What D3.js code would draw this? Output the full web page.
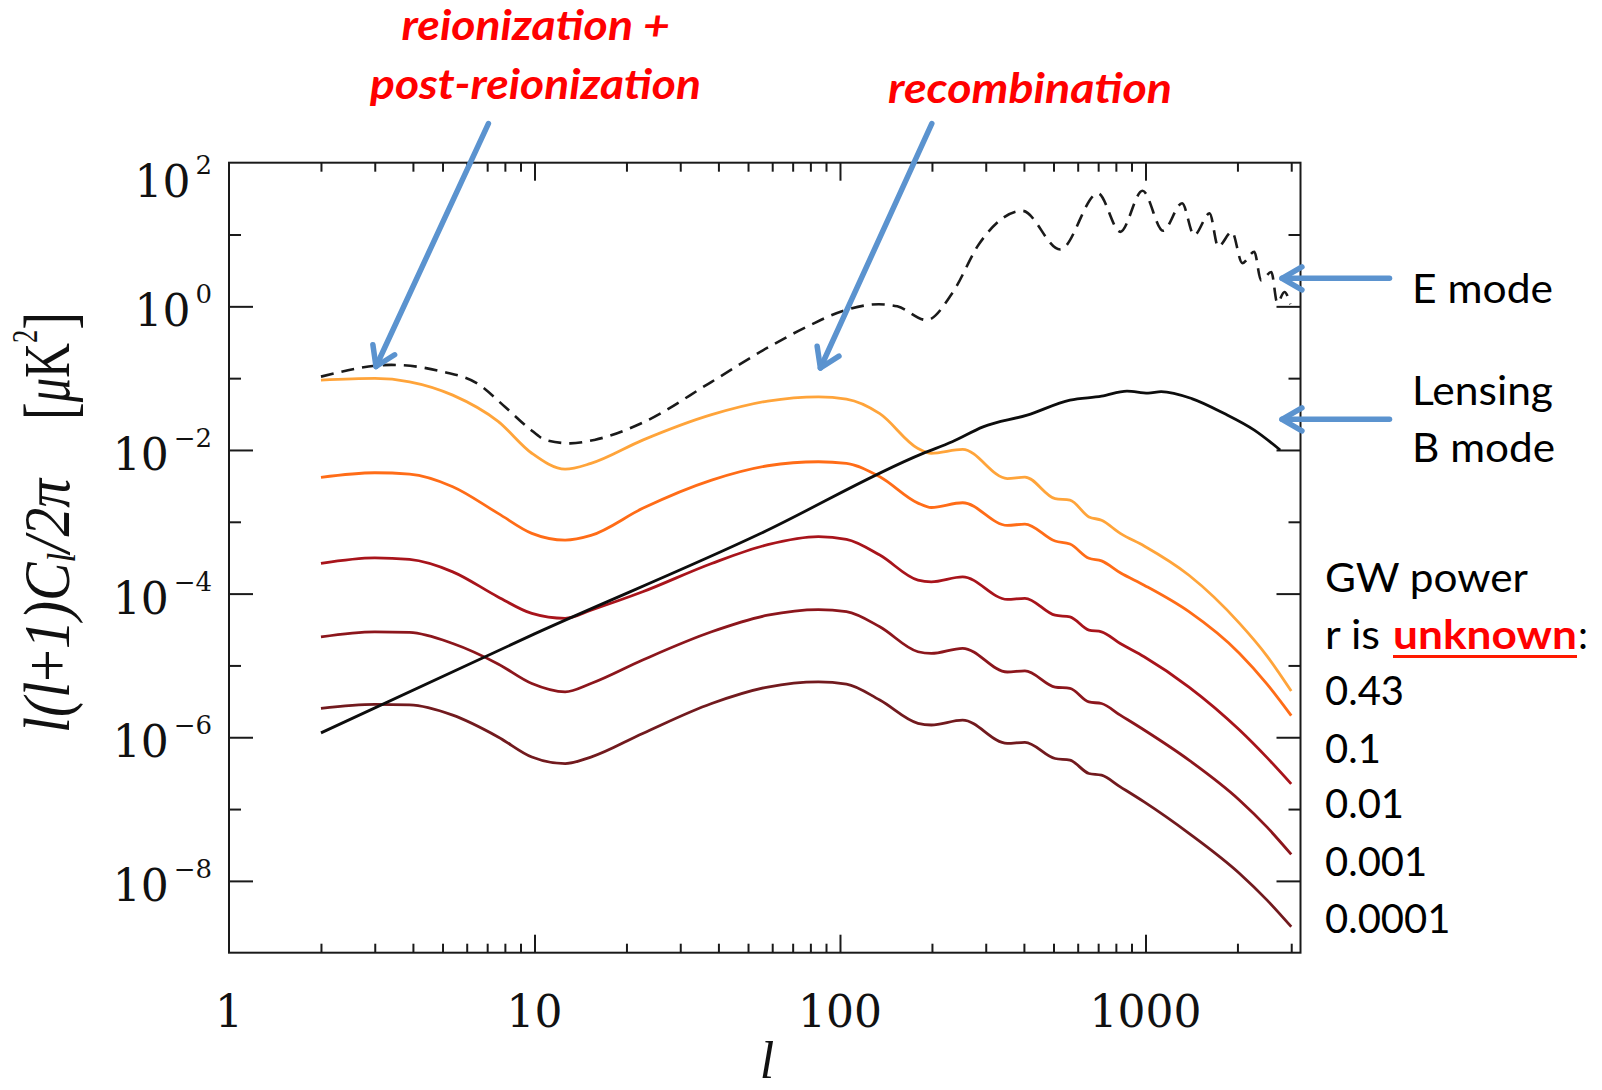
<!DOCTYPE html>
<html><head><meta charset="utf-8">
<script src="https://cdn.jsdelivr.net/npm/d3@7"></script>
<style>body{margin:0;background:#fff}svg{display:block}</style>
</head><body><svg id="c" width="1602" height="1090"></svg>
<script>
// ---------- data ----------
const ellT = [2,3,3.9,5.4,7.6,9.8,12.6,15.3,22.6,38,58,85,105,135,180,199,252,353,403,506,566,653,718,827,990,1388,2032,2500,3000];
const bR043 = [9.4e-2,9.9e-2,8.9e-2,5.8e-2,2.5e-2,9.0e-3,5.4e-3,6.5e-3,1.37e-2,3.1e-2,4.8e-2,5.5e-2,5.1e-2,3.2e-2,1.05e-2,9.0e-3,1.02e-2,4.0e-3,4.2e-3,2.1e-3,2.0e-3,1.17e-3,1.05e-3,6.9e-4,4.6e-4,1.8e-4,3.85e-5,1.35e-5,4.4e-6];
const bR01  = [4.15e-3,4.82e-3,4.61e-3,3.08e-3,1.31e-3,6.9e-4,5.56e-4,6.46e-4,1.54e-3,3.81e-3,6.03e-3,6.86e-3,6.5e-3,4.24e-3,1.82e-3,1.58e-3,1.84e-3,8.9e-4,9.3e-4,5.4e-4,4.9e-4,3.1e-4,2.86e-4,1.95e-4,1.31e-4,5.6e-5,1.47e-5,5.5e-6,2.0e-6];
const bR001 = [2.64e-4,3.15e-4,2.99e-4,2.01e-4,9.0e-5,5.3e-5,4.52e-5,5.9e-5,1.06e-4,2.63e-4,4.8e-4,6.2e-4,5.7e-4,3.44e-4,1.54e-4,1.46e-4,1.71e-4,8.3e-5,8.6e-5,5.0e-5,4.75e-5,3.1e-5,2.94e-5,2.02e-5,1.32e-5,5.0e-6,1.26e-6,5.2e-7,2.24e-7];
const bR0001 = [2.5e-5,2.94e-5,2.88e-5,2.02e-5,1.05e-5,5.6e-6,4.29e-6,5.6e-6,1.19e-5,2.94e-5,5.0e-5,6.0e-5,5.6e-5,3.45e-5,1.55e-5,1.47e-5,1.73e-5,8.1e-6,8.4e-6,5.0e-6,4.8e-6,3.1e-6,2.95e-6,2.03e-6,1.26e-6,4.8e-7,1.33e-7,5.6e-8,2.34e-8];
const bR00001 = [2.52e-6,2.86e-6,2.82e-6,2.03e-6,1.01e-6,5.3e-7,4.3e-7,5.3e-7,1.13e-6,2.95e-6,5.0e-6,5.9e-6,5.5e-6,3.29e-6,1.56e-6,1.48e-6,1.73e-6,8.2e-7,8.5e-7,5.06e-7,4.8e-7,3.13e-7,2.96e-7,2.04e-7,1.26e-7,4.6e-8,1.27e-8,5.4e-9,2.3e-9];

const ellLens = [2,10,54.7,187,233,294,410,566,718,870,1020,1125,1417,1805,2271,2760];
const lensB   = [1.15e-6,2.75e-5,6.8e-4,8.97e-3,1.30e-2,2.10e-2,3.06e-2,4.95e-2,5.6e-2,6.6e-2,6.2e-2,6.5e-2,5.2e-2,3.24e-2,1.89e-2,1.0e-2];

const ellE  = [2,3.4,5,6.5,8,9.6,10.9,13.1,15.7,22.6,38,58.8,80,104.5,134,154,192,233,286,395,526,699,827,978,1142,1318,1443,1622,1729,1919,2074,2271,2389,2583,2700,2850,2980];
const eMode = [0.105,0.153,0.123,0.0845,0.04,0.02,0.01374,0.01236,0.0138,0.024,0.089,0.275,0.55,0.89,1.07,1.0,0.645,1.52,7.5,21.4,6.2,37.5,10.9,40.7,11.3,27.2,9.8,19.7,6.8,10.9,4.0,5.75,2.3,3.0,1.12,1.58,1.07];

const xTickMajor = [10,100,1000];
const xLabelVals = [1,10,100,1000];
const xLabels = ["1","10","100","1000"];
const yLabelExp = [2,0,-2,-4,-6,-8];
const yLabels = ["2","0","\u22122","\u22124","\u22126","\u22128"];
const rLabels = ["0.43","0.1","0.01","0.001","0.0001"];

const tensorSeries = [
  {vals:bR043,  color:"#ffa43a"},
  {vals:bR01,   color:"#ff6c17"},
  {vals:bR001,  color:"#a8141b"},
  {vals:bR0001, color:"#8c161c"},
  {vals:bR00001,color:"#721a1e"}
];

// ---------- scales ----------
const svg = d3.select('#c');
const L=229, R=1300.5, T=162.7, B=952.7;
const x = d3.scaleLog().domain([1, 3217]).range([L,R]);
const y = d3.scaleLog().domain([1e-9, 1e2]).range([B,T]);
const line = d3.line().x(d=>x(d[0])).y(d=>y(d[1])).curve(d3.curveMonotoneX);

// ---------- axes ----------
const xMinor = [];
[1,10,100,1000].forEach(dec=>{for(let k=2;k<=9;k++){const v=k*dec; if(v<=3000) xMinor.push(v);}});
const yLong = [1e-8,1e-6,1e-4,1e-2,1];
const yShort = [1e-7,1e-5,1e-3,1e-1,10];
function styleAxis(g){ g.select('.domain').remove(); g.selectAll('.tick line').attr('stroke','#1a1a1a').attr('stroke-width',2); g.selectAll('.tick text').remove(); }
svg.append('g').attr('transform',`translate(0,${B})`).call(d3.axisBottom(x).tickValues(xMinor).tickSize(-9).tickFormat('')).call(styleAxis);
svg.append('g').attr('transform',`translate(0,${B})`).call(d3.axisBottom(x).tickValues(xTickMajor).tickSize(-18).tickFormat('')).call(styleAxis);
svg.append('g').attr('transform',`translate(0,${T})`).call(d3.axisTop(x).tickValues(xMinor).tickSize(-9).tickFormat('')).call(styleAxis);
svg.append('g').attr('transform',`translate(0,${T})`).call(d3.axisTop(x).tickValues(xTickMajor).tickSize(-18).tickFormat('')).call(styleAxis);
svg.append('g').attr('transform',`translate(${L},0)`).call(d3.axisLeft(y).tickValues(yLong).tickSize(-24).tickFormat('')).call(styleAxis);
svg.append('g').attr('transform',`translate(${L},0)`).call(d3.axisLeft(y).tickValues(yShort).tickSize(-12).tickFormat('')).call(styleAxis);
svg.append('g').attr('transform',`translate(${R},0)`).call(d3.axisRight(y).tickValues(yLong).tickSize(-24).tickFormat('')).call(styleAxis);
svg.append('g').attr('transform',`translate(${R},0)`).call(d3.axisRight(y).tickValues(yShort).tickSize(-12).tickFormat('')).call(styleAxis);
svg.append('rect').attr('x',L).attr('y',T).attr('width',R-L).attr('height',B-T).attr('fill','none').attr('stroke','#1a1a1a').attr('stroke-width',2);

// tick labels
xLabelVals.forEach((v,i)=>{
  svg.append('text').attr('x',x(v)).attr('y',1027).attr('text-anchor','middle')
    .attr('font-family','DejaVu Serif').attr('font-size',44).attr('fill','#111').text(xLabels[i]);
});
yLabelExp.forEach((e,i)=>{
  const yy = y(Math.pow(10,e)) + (e===2 ? 34 : 20);
  const t = svg.append('text').attr('x',212).attr('y',yy).attr('text-anchor','end')
    .attr('font-family','DejaVu Serif').attr('font-size',44).attr('fill','#111');
  t.append('tspan').text('10');
  t.append('tspan').attr('dx',5).attr('dy',-23).attr('font-size',26).text(yLabels[i]);
});

// axis titles
svg.append('text').attr('x',767).attr('y',1078).attr('text-anchor','middle')
  .attr('font-family','Liberation Serif').attr('font-style','italic').attr('font-size',52).attr('fill','#111').text('l');

function fitRot(g, t, target){ const w=t.node().getBBox().width; t.attr('transform',`scale(${target/w},1)`); }
const g1 = svg.append('g').attr('transform','translate(69,733) rotate(-90)');
const t1 = g1.append('text').attr('font-family','Liberation Serif').attr('font-style','italic').attr('font-size',66).attr('fill','#111');
t1.append('tspan').text('l(l');
t1.append('tspan').attr('font-style','normal').text('+');
t1.append('tspan').text('1)C');
t1.append('tspan').attr('font-size',40).attr('dy',6).text('l');
t1.append('tspan').attr('dy',-6).text('/2\u03C0');
fitRot(g1,t1,256);
const g2 = svg.append('g').attr('transform','translate(69,420) rotate(-90)');
const t2 = g2.append('text').attr('font-family','Liberation Serif').attr('font-size',66).attr('fill','#111');
t2.append('tspan').attr('font-size',72).attr('dy',4).text('[');
t2.append('tspan').attr('font-style','italic').attr('dy',-4).text('\u03BC');
t2.append('tspan').text('K');
t2.append('tspan').attr('font-size',36).attr('dy',-32).text('2');
t2.append('tspan').attr('font-size',72).attr('dy',36).text(']');
fitRot(g2,t2,108);

// ---------- curves ----------
tensorSeries.forEach(s=>{
  svg.append('path').datum(ellT.map((l,i)=>[l,s.vals[i]])).attr('d',line)
    .attr('fill','none').attr('stroke',s.color).attr('stroke-width',2.8).attr('stroke-linejoin','round');
});
svg.append('path').datum(ellLens.map((l,i)=>[l,lensB[i]])).attr('d',line)
  .attr('fill','none').attr('stroke','#0d0d0d').attr('stroke-width',2.8).attr('stroke-linejoin','round');
svg.append('path').datum(ellE.map((l,i)=>[l,eMode[i]])).attr('d',line)
  .attr('fill','none').attr('stroke','#1a1a1a').attr('stroke-width',2.6).attr('stroke-dasharray','13,8');

// ---------- arrows ----------
const arrowColor = '#5b93cf';
function arrow(x1,y1,x2,y2,len,angDeg){
  const th = Math.atan2(y1-y2, x1-x2), a = angDeg*Math.PI/180;
  svg.append('line').attr('x1',x1).attr('y1',y1).attr('x2',x2).attr('y2',y2)
    .attr('stroke',arrowColor).attr('stroke-width',5.5).attr('stroke-linecap','round');
  const p1=[x2+len*Math.cos(th+a), y2+len*Math.sin(th+a)], p2=[x2+len*Math.cos(th-a), y2+len*Math.sin(th-a)];
  svg.append('path').attr('d',`M${p1[0]},${p1[1]}L${x2},${y2}L${p2[0]},${p2[1]}`)
    .attr('fill','none').attr('stroke',arrowColor).attr('stroke-width',5.5).attr('stroke-linecap','round').attr('stroke-linejoin','round');
}
arrow(488.4,123.6,376,366.5,22,33);
arrow(931.8,123.6,820.4,368,22,33);
arrow(1389.5,278.3,1282,278.3,23,30);
arrow(1389.5,419.3,1282,419.3,23,30);

// ---------- annotations ----------
function label(txt,xx,yy,w,opts){
  const t = svg.append('text').attr('x',xx).attr('y',yy).attr('font-family','Lato')
    .attr('font-size',opts.size||40).attr('fill',opts.fill||'#000')
    .attr('font-weight',opts.weight||'normal').attr('font-style',opts.style||'normal').text(txt);
  if(w) t.attr('textLength',w).attr('lengthAdjust','spacingAndGlyphs');
  return t;
}
label('reionization +',401.5,40,268.5,{size:42,fill:'#ff0000',weight:'bold',style:'italic'});
label('post-reionization',370,99,331,{size:42,fill:'#ff0000',weight:'bold',style:'italic'});
label('recombination',888,103,284,{size:42,fill:'#ff0000',weight:'bold',style:'italic'});
label('E mode',1412,303,141,{});
label('Lensing',1412,405,141,{});
label('B mode',1412,462,143,{});
label('GW power',1325,592,203,{});
label('r is',1325,649,55,{});
label('unknown',1393,649,184,{fill:'#ff0000',weight:'bold'});
label(':',1578,649,null,{});
svg.append('line').attr('x1',1393).attr('x2',1577).attr('y1',656.5).attr('y2',656.5).attr('stroke','#ff1a00').attr('stroke-width',3);
const rBase = [705,762.7,818.3,876,933.3];
rLabels.forEach((r,i)=>label(r,1325,rBase[i],null,{}));
</script></body></html>
